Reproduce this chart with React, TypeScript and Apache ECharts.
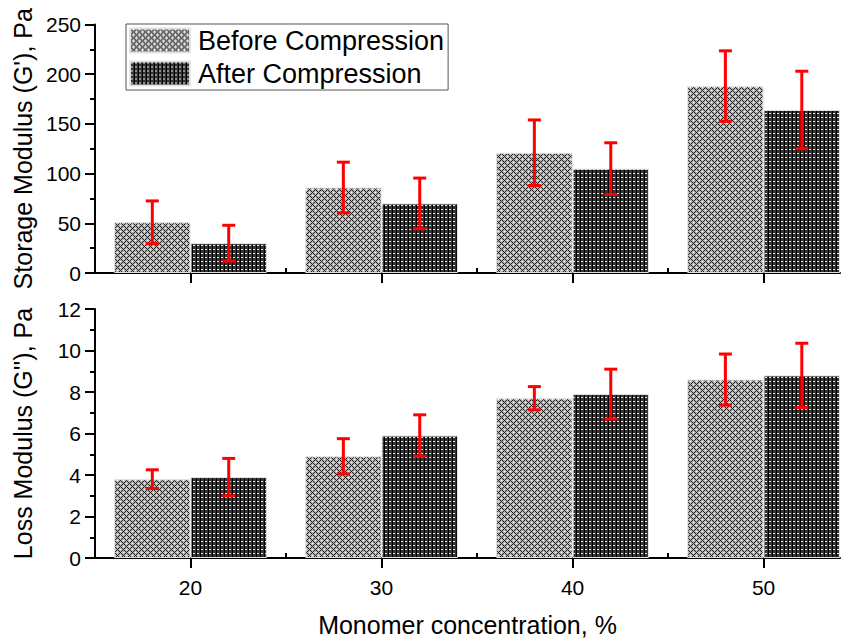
import React, { useEffect, useRef } from "react";
import * as echarts from "echarts";

// Monomer concentration, %
const concentrations = [20, 30, 40, 50];
const midTicks = [25, 35, 45];

// Storage modulus G' (Pa), mean and error
const storageBefore = [51, 86, 121, 188];
const storageBeforeErr = [21.5, 25.5, 33, 35.5];
const storageAfter = [30, 70, 105, 164];
const storageAfterErr = [18, 25.5, 26, 39];

// Loss modulus G'' (Pa), mean and error
const lossBefore = [3.8, 4.9, 7.7, 8.6];
const lossBeforeErr = [0.45, 0.85, 0.56, 1.23];
const lossAfter = [3.9, 5.9, 7.9, 8.8];
const lossAfterErr = [0.9, 1.0, 1.2, 1.55];

const seriesNames = ["Before Compression", "After Compression"];

const FONT = "'Liberation Sans', Arial, Helvetica, sans-serif";
const BAR_FRACTION = 0.4;

function makePattern(size: number, paint: (x: number, y: number) => string) {
  const c = document.createElement("canvas");
  c.width = size;
  c.height = size;
  const ctx = c.getContext("2d")!;
  for (let y = 0; y < size; y++) {
    for (let x = 0; x < size; x++) {
      ctx.fillStyle = paint(x, y);
      ctx.fillRect(x, y, 1, 1);
    }
  }
  return { image: c, repeat: "repeat", imageWidth: size, imageHeight: size } as any;
}

// light cross-hatch: diagonal black lattice on grey with white diamond centres
const crossHatch = () =>
  makePattern(6, (x, y) => {
    if ((x + y) % 6 === 0 || (((x - y) % 6) + 6) % 6 === 0) return "#1a1a1a";
    if ((x === 3 && y === 0) || (x === 0 && y === 3)) return "#ffffff";
    return "#b8b8b8";
  });

// dark dotted texture: black columns with small white dots
const darkDots = () =>
  makePattern(4, (x, y) => {
    if (x === 0) return "#000000";
    if ((x === 1 || x === 2) && y === 1) return "#e8e8e8";
    return "#333333";
  });

function errorBar(side: number) {
  return (params: any, api: any) => {
    const x = api.value(0);
    const v = api.value(1);
    const e = api.value(2);
    const step = concentrations[1] - concentrations[0];
    const half = (api.size([step, 0])[0] * BAR_FRACTION) / 2;
    const top = api.coord([x, v + e]);
    const bot = api.coord([x, v - e]);
    const cx = top[0] + side * half;
    const cap = 6.5;
    const style = { stroke: "#ff0000", lineWidth: 3 };
    return {
      type: "group",
      children: [
        { type: "line", shape: { x1: cx, y1: top[1], x2: cx, y2: bot[1] }, style },
        { type: "line", shape: { x1: cx - cap, y1: top[1], x2: cx + cap, y2: top[1] }, style },
        { type: "line", shape: { x1: cx - cap, y1: bot[1], x2: cx + cap, y2: bot[1] }, style },
      ],
    };
  };
}

export default function App() {
  const ref = useRef<HTMLDivElement>(null);

  useEffect(() => {
    document.body.style.margin = "0";
    const chart = echarts.init(ref.current!, null, { renderer: "svg" });
    const light = crossHatch();
    const dark = darkDots();

    const axisColor = "#000";
    const mainX = (gridIndex: number, labels: boolean) => ({
      type: "value",
      gridIndex,
      min: 15,
      max: 54,
      axisLine: { show: true, onZero: false, lineStyle: { color: axisColor, width: 2 } },
      axisTick: { show: true, customValues: concentrations, length: 10, lineStyle: { color: axisColor, width: 2 } },
      axisLabel: {
        show: labels,
        customValues: concentrations,
        fontSize: 21,
        color: "#000",
        margin: 19,
        fontFamily: FONT,
      },
      splitLine: { show: false },
      name: labels ? "Monomer concentration, %" : "",
      nameLocation: "middle",
      nameGap: 54,
      nameTextStyle: { fontSize: 25, color: "#000", fontFamily: FONT },
    });
    const minorX = (gridIndex: number) => ({
      type: "value",
      gridIndex,
      min: 15,
      max: 54,
      axisLine: { show: false },
      axisTick: { show: true, customValues: midTicks, length: 5, lineStyle: { color: axisColor, width: 2 } },
      axisLabel: { show: false },
      splitLine: { show: false },
    });
    const yAxis = (gridIndex: number, max: number, interval: number, name: string) => ({
      type: "value",
      gridIndex,
      min: 0,
      max,
      interval,
      axisLine: { show: true, lineStyle: { color: axisColor, width: 2 } },
      axisTick: { show: true, length: 10, lineStyle: { color: axisColor, width: 2 } },
      minorTick: { show: true, splitNumber: 2, length: 5, lineStyle: { color: axisColor, width: 2 } },
      axisLabel: { fontSize: 21, color: "#000", margin: 14, fontFamily: FONT },
      splitLine: { show: false },
      minorSplitLine: { show: false },
      name,
      nameLocation: "middle",
      nameGap: 60,
      nameTextStyle: { fontSize: 25, color: "#000", fontFamily: FONT },
    });

    const bar = (name: string, x: number, y: number, values: number[], color: any) => ({
      type: "bar",
      name,
      xAxisIndex: x,
      yAxisIndex: y,
      data: concentrations.map((c, i) => [c, values[i]]),
      barWidth: `${BAR_FRACTION * 100}%`,
      barGap: "0%",
      itemStyle: { color, borderColor: "#e2e2e2", borderWidth: 1 },
      z: 2,
    });
    const err = (x: number, y: number, values: number[], errs: number[], side: number) => ({
      type: "custom",
      xAxisIndex: x,
      yAxisIndex: y,
      data: concentrations.map((c, i) => [c, values[i], errs[i]]),
      renderItem: errorBar(side),
      z: 5,
    });

    chart.setOption({
      animation: false,
      textStyle: { fontFamily: FONT },
      grid: [
        { left: 95, right: 14, top: 24.5, bottom: 366 },
        { left: 95, right: 14, top: 309, bottom: 81 },
      ],
      legend: {
        orient: "vertical",
        left: 126,
        top: 24,
        data: seriesNames,
        icon: "rect",
        itemWidth: 60,
        itemHeight: 24,
        itemGap: 6,
        padding: [3, 4, 3, 3],
        borderColor: "#555",
        borderWidth: 1,
        selectedMode: false,
        textStyle: { fontSize: 27, color: "#000", fontFamily: FONT, lineHeight: 26, padding: [0, 0, 0, 3] },
      },
      xAxis: [mainX(0, false), minorX(0), mainX(1, true), minorX(1)],
      yAxis: [
        yAxis(0, 250, 50, "Storage Modulus (G'), Pa"),
        yAxis(1, 12, 2, "Loss Modulus (G''), Pa"),
      ],
      series: [
        bar(seriesNames[0], 0, 0, storageBefore, light),
        bar(seriesNames[1], 0, 0, storageAfter, dark),
        bar(seriesNames[0], 2, 1, lossBefore, light),
        bar(seriesNames[1], 2, 1, lossAfter, dark),
        err(0, 0, storageBefore, storageBeforeErr, -1),
        err(0, 0, storageAfter, storageAfterErr, 1),
        err(2, 1, lossBefore, lossBeforeErr, -1),
        err(2, 1, lossAfter, lossAfterErr, 1),
      ],
    });
    return () => chart.dispose();
  }, []);

  return <div ref={ref} style={{ width: 854, height: 639 }} />;
}
